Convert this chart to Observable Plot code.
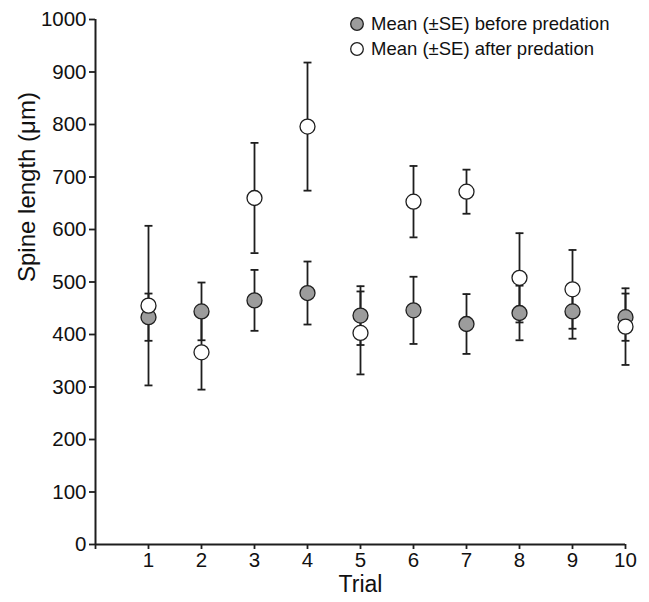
<!DOCTYPE html>
<html>
<head>
<meta charset="utf-8">
<script src="https://cdn.jsdelivr.net/npm/d3@7"></script>
<script src="https://cdn.jsdelivr.net/npm/@observablehq/plot@0.6"></script>
<style>
  body { margin: 0; background: #fff; font-family: "Liberation Sans", Arial, Helvetica, sans-serif; }
  #wrap { position: relative; width: 649px; height: 602px; }
  #legend { position: absolute; left: 349px; top: 11px; font-size: 18.5px; color: #111; line-height: 25px; }
  #legend .row { display: flex; align-items: center; white-space: nowrap; }
  #legend svg { margin-right: 6px; }
</style>
</head>
<body>
<div id="wrap">
  <div id="chart"></div>
  <div id="legend"></div>
</div>
<script>
const trials = [1, 2, 3, 4, 5, 6, 7, 8, 9, 10];
const beforeMean = [433, 444, 465, 479, 436, 446, 420, 441, 444, 433];
const beforeSE   = [45, 55, 58, 60, 56, 64, 57, 52, 52, 45];
const afterMean  = [455, 366, 660, 796, 403, 653, 672, 508, 486, 415];
const afterSE    = [152, 71, 105, 122, 79, 68, 42, 85, 75, 73];
const xTicks = [0, 1, 2, 3, 4, 5, 6, 7, 8, 9, 10];
const yTicks = [0, 100, 200, 300, 400, 500, 600, 700, 800, 900, 1000];
const seriesNames = ["Mean (±SE) before predation", "Mean (±SE) after predation"];
const yLabel = "Spine length (μm)";
const xLabel = "Trial";

const fillBefore = "#9c9c9c";
const fillAfter = "#ffffff";
const ink = "#1e1e1e";

const rows = trials.flatMap((t, i) => [
  {trial: t, group: "before", mean: beforeMean[i], se: beforeSE[i]},
  {trial: t, group: "after", mean: afterMean[i], se: afterSE[i]}
]);
const capHalf = 0.075;

const chart = Plot.plot({
  width: 649,
  height: 602,
  marginLeft: 95,
  marginRight: 24,
  marginTop: 19,
  marginBottom: 58,
  style: {fontFamily: '"Liberation Sans", Arial, Helvetica, sans-serif', fontSize: "20px", color: "#111", background: "white"},
  x: {domain: [0, 10]},
  y: {domain: [0, 1000]},
  marks: [
    Plot.ruleX(rows, {x: "trial", y1: d => d.mean - d.se, y2: d => d.mean + d.se, stroke: ink, strokeWidth: 1.8}),
    Plot.link(rows, {x1: d => d.trial - capHalf, x2: d => d.trial + capHalf, y1: d => d.mean + d.se, y2: d => d.mean + d.se, stroke: ink, strokeWidth: 1.8}),
    Plot.link(rows, {x1: d => d.trial - capHalf, x2: d => d.trial + capHalf, y1: d => d.mean - d.se, y2: d => d.mean - d.se, stroke: ink, strokeWidth: 1.8}),
    Plot.dot(rows.filter(d => d.group === "before"), {x: "trial", y: "mean", r: 7.5, fill: fillBefore, stroke: ink, strokeWidth: 1.3}),
    Plot.dot(rows.filter(d => d.group === "after"), {x: "trial", y: "mean", r: 7.5, fill: fillAfter, stroke: ink, strokeWidth: 1.3}),
    Plot.axisX({ticks: xTicks, tickFormat: d => d === 0 ? "" : String(d), tickSize: 5, tickPadding: 3, strokeWidth: 1.8, stroke: ink, fontSize: 20.5, label: null}),
    Plot.axisY({ticks: yTicks, tickFormat: d => String(d), tickSize: 6, tickPadding: 3, strokeWidth: 1.8, stroke: ink, fontSize: 20.5, label: null}),
    Plot.ruleX([0], {stroke: ink, strokeWidth: 2}),
    Plot.ruleY([0], {stroke: ink, strokeWidth: 2}),
    Plot.text([yLabel], {frameAnchor: "left", rotate: -90, dx: -68, fontSize: 24, fill: "#111", text: d => d}),
    Plot.text([xLabel], {frameAnchor: "bottom", dy: 47, fontSize: 23, fill: "#111", text: d => d})
  ]
});
document.getElementById("chart").appendChild(chart);

const legend = d3.select("#legend");
[fillBefore, fillAfter].forEach((f, i) => {
  const row = legend.append("div").attr("class", "row");
  const s = row.append("svg").attr("width", 16).attr("height", 16);
  s.append("circle").attr("cx", 8).attr("cy", 8).attr("r", 6.3).attr("fill", f).attr("stroke", ink).attr("stroke-width", 1.3);
  row.append("span").text(seriesNames[i]);
});
</script>
</body>
</html>
